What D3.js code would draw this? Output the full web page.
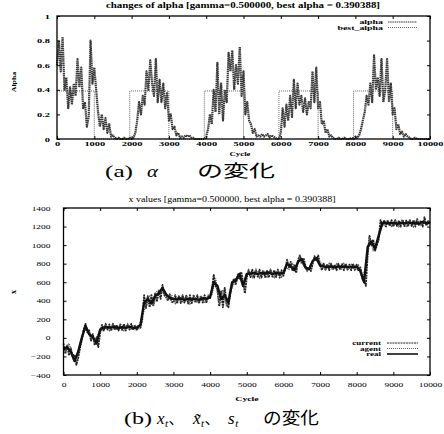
<!DOCTYPE html>
<html>
<head>
<meta charset="utf-8">
<script src="https://d3js.org/d3.v7.min.js"></script>
<style>
  html, body { margin: 0; padding: 0; background: #fff; }
  svg { display: block; }
</style>
</head>
<body>
<script>
// ---- data ----
const cycleTicks = [0, 1000, 2000, 3000, 4000, 5000, 6000, 7000, 8000, 9000, 10000];
const alphaTicks = [0, 0.2, 0.4, 0.6, 0.8, 1];
const xTicks = [-400, -200, 0, 200, 400, 600, 800, 1000, 1200, 1400];

// alpha, one value every 50 cycles (0 .. 10000)
const alphaStep = 50;
const alphaValues = [
  0.60, 0.80, 0.55, 0.83, 0.40, 0.50, 0.25, 0.42, 0.28, 0.45,
  0.35, 0.65, 0.42, 0.58, 0.25, 0.30, 0.10, 0.18, 0.80, 0.45,
  0.58, 0.40, 0.22, 0.10, 0.20, 0.08, 0.17, 0.05, 0.12, 0.02,
  0.03, 0.01, 0.00, 0.01, 0.00, 0.00, 0.01, 0.00, 0.00, 0.01,
  0.00, 0.01, 0.05, 0.15, 0.30, 0.20, 0.35, 0.28, 0.55, 0.40,
  0.64, 0.45, 0.35, 0.65, 0.30, 0.48, 0.30, 0.45, 0.25, 0.38,
  0.15, 0.20, 0.08, 0.10, 0.03, 0.05, 0.01, 0.02, 0.01, 0.03,
  0.02, 0.03, 0.01, 0.01, 0.00, 0.00, 0.00, 0.00, 0.00, 0.00,
  0.02, 0.08, 0.20, 0.12, 0.40, 0.22, 0.62, 0.20, 0.45, 0.15,
  0.40, 0.30, 0.70, 0.55, 0.72, 0.40, 0.60, 0.45, 0.75, 0.35,
  0.55, 0.20, 0.30, 0.15, 0.12, 0.05, 0.08, 0.02, 0.03, 0.02,
  0.04, 0.02, 0.03, 0.04, 0.01, 0.03, 0.02, 0.01, 0.00, 0.00,
  0.05, 0.25, 0.10, 0.28, 0.15, 0.35, 0.18, 0.48, 0.25, 0.45,
  0.28, 0.35, 0.22, 0.33, 0.20, 0.30, 0.25, 0.55, 0.30, 0.58,
  0.25, 0.30, 0.12, 0.15, 0.05, 0.08, 0.02, 0.03, 0.01, 0.00,
  0.00, 0.01, 0.00, 0.00, 0.01, 0.00, 0.00, 0.00, 0.01, 0.00,
  0.02, 0.01, 0.03, 0.08, 0.15, 0.22, 0.35, 0.28, 0.45, 0.30,
  0.68, 0.40, 0.50, 0.35, 0.65, 0.30, 0.40, 0.65, 0.30, 0.45,
  0.20, 0.25, 0.08, 0.12, 0.04, 0.06, 0.02, 0.04, 0.02, 0.01,
  0.00, 0.00, 0.01, 0.00, 0.00, 0.00, 0.00, 0.00, 0.00, 0.00,
  0.00
];

// best_alpha, step changes
const bestCycles = [0, 1000, 1950, 3000, 3950, 5000, 5950, 7000, 7950, 9000, 10000];
const bestValues = [0.390388, 0, 0.390388, 0, 0.390388, 0, 0.390388, 0, 0.390388, 0, 0];

// real x, one value every 100 cycles
const realStep = 100;
const realValues = [
  -120, -100, -150, -250, -150, 0, 130, 40, 10, -60,
  90, 110, 115, 110, 120, 105, 115, 110, 120, 105,
  110, 140, 380, 420, 370, 450, 480, 540, 470, 430,
  420, 415, 425, 410, 420, 415, 420, 410, 425, 420,
  440, 600, 560, 420, 460, 380, 600, 620, 690, 560,
  690, 695, 700, 690, 700, 695, 705, 690, 700, 695,
  700, 800, 770, 730, 820, 850, 760, 740, 830, 860,
  780, 770, 765, 770, 760, 770, 765, 770, 760, 765,
  770, 720, 600, 980, 1040, 960, 1100, 1240, 1240, 1235,
  1240, 1230, 1240, 1235, 1245, 1235, 1240, 1230, 1250, 1235,
  1240
];

// current x, one value every 50 cycles
const currentStep = 50;
const currentValues = [
  -60, -170, -80, -190, -110, -200, -180, -290, -220, -110,
  -20, 90, 150, 60, 80, -30, 40, -80, 0, -100,
  60, 140, 80, 150, 90, 145, 75, 150, 85, 140,
  80, 145, 85, 150, 80, 140, 90, 150, 85, 135,
  80, 140, 110, 200, 460, 320, 450, 330, 460, 350,
  480, 390, 510, 420, 570, 460, 440, 400, 470, 390,
  380, 460, 370, 455, 375, 460, 380, 455, 370, 460,
  375, 455, 380, 460, 370, 455, 380, 460, 385, 450,
  430, 520, 680, 560, 520, 340, 500, 330, 540, 360,
  330, 480, 560, 640, 580, 650, 640, 710, 600, 480,
  650, 730, 655, 735, 650, 730, 660, 735, 650, 725,
  655, 730, 650, 735, 660, 730, 655, 735, 650, 730,
  670, 740, 840, 760, 820, 720, 780, 700, 840, 890,
  800, 860, 780, 730, 760, 720, 800, 880, 830, 890,
  790, 730, 800, 735, 795, 730, 800, 735, 790, 730,
  800, 735, 795, 730, 800, 735, 790, 730, 800, 735,
  790, 720, 760, 660, 620, 560, 900, 1100, 1000, 1060,
  940, 1000, 1060, 1270, 1210, 1270, 1200, 1265, 1205, 1270,
  1200, 1270, 1205, 1265, 1200, 1275, 1205, 1265, 1200, 1270,
  1205, 1270, 1200, 1280, 1210, 1265, 1200, 1300, 1210, 1260,
  1240
];

// agent x, one value every 100 cycles starting at cycle 50
const agentStart = 50, agentStep = 100;
const agentValues = [
  -150, -60, -190, -260, -60, 70, 100, 0, -30, 40,
  80, 145, 80, 150, 85, 145, 80, 150, 85, 140,
  90, 250, 340, 460, 340, 500, 520, 480, 420, 460,
  375, 460, 380, 455, 370, 460, 380, 455, 375, 460,
  470, 640, 360, 520, 340, 520, 580, 680, 620, 600,
  730, 655, 735, 650, 730, 660, 735, 655, 730, 660,
  760, 740, 800, 760, 870, 780, 720, 790, 850, 820,
  800, 730, 800, 735, 795, 730, 800, 735, 790, 730,
  780, 640, 760, 1080, 950, 1040, 1200, 1210, 1270, 1205,
  1265, 1200, 1270, 1205, 1265, 1200, 1275, 1210, 1265, 1210
];

// ---- drawing ----
const W = 444, H = 434;
const serif = '"Liberation Serif", "DejaVu Serif", serif';
const cjk = '"Noto Sans CJK JP", "Noto Sans CJK SC", sans-serif';

const svg = d3.select('body').append('svg')
  .attr('width', W)
  .attr('height', H)
  .style('background', '#fff');

// widen text sideways, the source picture is stretched horizontally
const stretch = (sel, k) => sel.each(function() {
  const w = this.getComputedTextLength();
  d3.select(this).attr('textLength', w * k).attr('lengthAdjust', 'spacingAndGlyphs');
});

const drawFrame = (x, y, yTickVals, yFmt, yPad, xPad, bold, k) => {
  const [x0, x1] = x.range();
  const [y0, y1] = y.range();
  const weight = bold ? 'bold' : 'normal';

  const bottom = svg.append('g')
    .attr('transform', 'translate(0,' + y0 + ')')
    .call(d3.axisBottom(x).tickValues(cycleTicks).tickSize(-3).tickPadding(xPad).tickFormat(d3.format('d')));
  const left = svg.append('g')
    .attr('transform', 'translate(' + x0 + ',0)')
    .call(d3.axisLeft(y).tickValues(yTickVals).tickSize(-3).tickPadding(yPad).tickFormat(yFmt));
  // mirrored ticks like gnuplot
  const top = svg.append('g')
    .attr('transform', 'translate(0,' + y1 + ')')
    .call(d3.axisTop(x).tickValues(cycleTicks).tickSize(-3).tickFormat(''));
  const right = svg.append('g')
    .attr('transform', 'translate(' + x1 + ',0)')
    .call(d3.axisRight(y).tickValues(yTickVals).tickSize(-3).tickFormat(''));

  [bottom, left, top, right].forEach(g => {
    g.select('.domain').remove();
    g.selectAll('line').attr('stroke', '#000').attr('stroke-width', 1);
    g.selectAll('text')
      .attr('font-family', serif)
      .attr('font-size', 6.5)
      .attr('font-weight', weight)
      .attr('fill', '#000')
      .call(stretch, k);
  });

  svg.append('rect')
    .attr('x', x0).attr('y', y1)
    .attr('width', x1 - x0).attr('height', y0 - y1)
    .attr('fill', 'none')
    .attr('stroke', '#000')
    .attr('stroke-width', 1.3);
};

// ===== (a) alpha =====
const xA = d3.scaleLinear().domain([0, 10000]).range([57, 430]);
const yA = d3.scaleLinear().domain([0, 1]).range([139, 16]);

const alphaPts = alphaValues.map((v, i) => [i * alphaStep, v]);
const bestPts = bestCycles.map((c, i) => [c, bestValues[i]]);

const lineA = d3.line().x(d => xA(d[0])).y(d => yA(d[1]));

svg.append('path')
  .datum(bestPts)
  .attr('d', d3.line().x(d => xA(d[0])).y(d => yA(d[1])).curve(d3.curveStepAfter))
  .attr('fill', 'none')
  .attr('stroke', '#555')
  .attr('stroke-width', 0.9)
  .attr('stroke-dasharray', '1,1');

svg.append('path')
  .datum(alphaPts)
  .attr('d', lineA)
  .attr('fill', 'none')
  .attr('stroke', '#3a3a3a')
  .attr('stroke-width', 2.2)
  .attr('stroke-linejoin', 'round')
  .attr('stroke-dasharray', '1.5,0.6');

drawFrame(xA, yA, alphaTicks, d => d === 0 || d === 1 ? d3.format('d')(d) : d3.format('.1f')(d), 7, 2.5, true, 1.6);

svg.append('text')
  .attr('x', 243).attr('y', 8)
  .attr('text-anchor', 'middle')
  .attr('font-family', serif).attr('font-size', 7.5).attr('font-weight', 'bold')
  .attr('textLength', 274).attr('lengthAdjust', 'spacingAndGlyphs')
  .text('changes of alpha [gamma=0.500000, best alpha = 0.390388]');

svg.append('text')
  .attr('x', 240).attr('y', 155.5)
  .attr('text-anchor', 'middle')
  .attr('font-family', serif).attr('font-size', 5.5).attr('font-weight', 'bold')
  .text('Cycle')
  .call(stretch, 1.6);

svg.append('text')
  .attr('transform', 'translate(16,82) rotate(-90)')
  .attr('text-anchor', 'middle')
  .attr('font-family', serif).attr('font-size', 6.5).attr('font-weight', 'bold')
  .text('Alpha')
  .call(stretch, 1.2);

// legend (a)
const legA = [
  { name: 'alpha', y: 22, stroke: '#333', dash: '1.5,0.7', w: 1 },
  { name: 'best_alpha', y: 27.5, stroke: '#555', dash: '1,1', w: 0.9 }
];
legA.forEach(d => {
  svg.append('text')
    .attr('x', 383).attr('y', d.y + 2)
    .attr('text-anchor', 'end')
    .attr('font-family', serif).attr('font-size', 5.8).attr('font-weight', 'bold')
    .text(d.name)
    .call(stretch, 1.7);
  svg.append('line')
    .attr('x1', 388).attr('x2', 417).attr('y1', d.y).attr('y2', d.y)
    .attr('stroke', d.stroke).attr('stroke-width', d.w).attr('stroke-dasharray', d.dash);
});

// ===== (b) x values =====
const xB = d3.scaleLinear().domain([0, 10000]).range([63.5, 430]);
const yB = d3.scaleLinear().domain([-400, 1400]).range([375, 208]);
const lineB = d3.line().x(d => xB(d[0])).y(d => yB(d[1]));

const currentPts = currentValues.map((v, i) => [i * currentStep, v]);
const agentPts = agentValues.map((v, i) => [agentStart + i * agentStep, v]);
const realPts = realValues.map((v, i) => [i * realStep, v]);

svg.append('path')
  .datum(currentPts)
  .attr('d', lineB)
  .attr('fill', 'none')
  .attr('stroke', '#222')
  .attr('stroke-width', 1.8)
  .attr('stroke-linejoin', 'round')
  .attr('stroke-dasharray', '2,0.7');

svg.append('path')
  .datum(agentPts)
  .attr('d', lineB)
  .attr('fill', 'none')
  .attr('stroke', '#555')
  .attr('stroke-width', 1.6)
  .attr('stroke-dasharray', '1,1');

svg.append('path')
  .datum(realPts)
  .attr('d', lineB)
  .attr('fill', 'none')
  .attr('stroke', '#111')
  .attr('stroke-width', 2.4)
  .attr('stroke-linejoin', 'round');

drawFrame(xB, yB, xTicks, d3.format('d'), 13, 7, false, 1.45);

svg.append('text')
  .attr('x', 232).attr('y', 202)
  .attr('text-anchor', 'middle')
  .attr('font-family', serif).attr('font-size', 8)
  .attr('textLength', 207).attr('lengthAdjust', 'spacingAndGlyphs')
  .text('x values [gamma=0.500000, best alpha = 0.390388]');

svg.append('text')
  .attr('x', 247).attr('y', 401)
  .attr('text-anchor', 'middle')
  .attr('font-family', serif).attr('font-size', 6.5).attr('font-weight', 'bold')
  .text('Cycle')
  .call(stretch, 1.5);

svg.append('text')
  .attr('transform', 'translate(16,292) rotate(-90)')
  .attr('text-anchor', 'middle')
  .attr('font-family', serif).attr('font-size', 8).attr('font-weight', 'bold')
  .text('x');

const legB = [
  { name: 'current', y: 343, stroke: '#222', dash: '2,0.7', w: 1 },
  { name: 'agent', y: 348.5, stroke: '#666', dash: '1,1', w: 1 },
  { name: 'real', y: 354, stroke: '#111', dash: null, w: 1.6 }
];
legB.forEach(d => {
  svg.append('text')
    .attr('x', 381).attr('y', d.y + 2)
    .attr('text-anchor', 'end')
    .attr('font-family', serif).attr('font-size', 5.8).attr('font-weight', 'bold')
    .text(d.name)
    .call(stretch, 1.55);
  svg.append('line')
    .attr('x1', 387).attr('x2', 418).attr('y1', d.y).attr('y2', d.y)
    .attr('stroke', d.stroke).attr('stroke-width', d.w).attr('stroke-dasharray', d.dash);
});

// ===== captions =====
const piece = (x, y, len, font, size, style, txt) =>
  svg.append('text')
    .attr('x', x).attr('y', y)
    .attr('font-family', font).attr('font-size', size)
    .attr('font-style', style)
    .attr('textLength', len).attr('lengthAdjust', 'spacingAndGlyphs')
    .text(txt);

piece(105, 177, 28, serif, 17, 'normal', '(a)');
piece(147, 177, 11, serif, 17, 'italic', 'α');
piece(197, 177, 78, cjk, 16.5, 'normal', 'の変化');

piece(124, 424, 28, serif, 17, 'normal', '(b)');

// math symbol with subscript t, then optional comma
const mathSub = (x, base, tail) => {
  const g = svg.append('g');
  const b = g.append('text')
    .attr('x', x).attr('y', 424)
    .attr('font-family', serif).attr('font-size', 17).attr('font-style', 'italic')
    .text(base);
  const bw = b.node().getComputedTextLength();
  const s = g.append('text')
    .attr('x', x + bw + 0.5).attr('y', 427)
    .attr('font-family', serif).attr('font-size', 11).attr('font-style', 'italic')
    .text('t');
  if (tail) {
    const sw = s.node().getComputedTextLength();
    g.append('text')
      .attr('x', x + bw + sw + 1).attr('y', 424)
      .attr('font-family', cjk).attr('font-size', 15)
      .text(tail);
  }
};
mathSub(157, 'x', '、');
mathSub(193, 'x\u0303', '、');
mathSub(228, 's', null);

piece(263, 424, 56, cjk, 17, 'normal', 'の変化');
</script>
</body>
</html>
